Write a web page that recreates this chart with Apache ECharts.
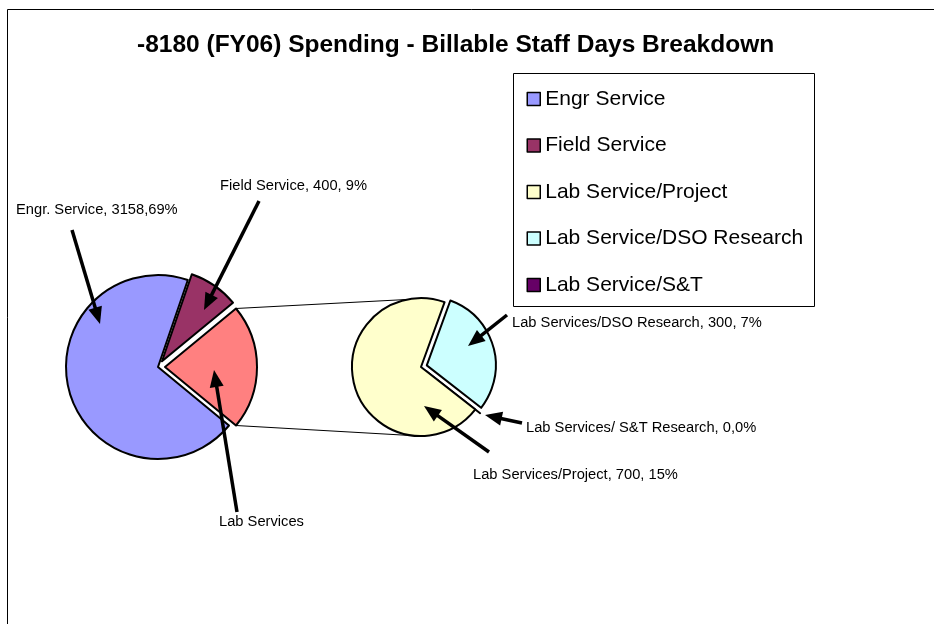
<!DOCTYPE html>
<html>
<head>
<meta charset="utf-8">
<script src="https://cdn.jsdelivr.net/npm/echarts@6/dist/echarts.min.js"></script>
<style>
  html, body { margin: 0; padding: 0; background: #fff; }
  #chart { width: 934px; height: 624px; }
</style>
</head>
<body>
<div id="chart"></div>
<script>
// FY06 billable staff days by service line
const categories = ['Engr Service', 'Field Service', 'Lab Service/Project', 'Lab Service/DSO Research', 'Lab Service/S&T'];
const staffDays = [3158, 400, 700, 300, 0];
const labelNames = ['Engr. Service', 'Field Service', 'Lab Services/Project', 'Lab Services/DSO Research', 'Lab Services/ S&T Research'];
const labelSeparators = [',', ', ', ', ', ', ', ','];
const labGroupName = 'Lab Services';

// styling
const sliceColors = ['#9999FF', '#993366', '#FFFFCC', '#CCFFFF', '#660066'];
const labGroupColor = '#FF8080';
const FONT = '"Liberation Sans", Arial, sans-serif';

// layout
const mainCenter = [158, 367], mainRadius = 92, mainExplode = 7;
const subCenter = [421, 367], subRadius = 69, subExplode = 6, subStart = 70;
const labelPos = {
  'Engr Service': [16, 210],
  'Field Service': [220, 186],
  'Lab Services': [219, 522],
  'Lab Service/Project': [473, 475],
  'Lab Service/DSO Research': [512, 323],
  'Lab Service/S&T': [526, 428]
};
const arrowPaths = [
  [[72, 230], [100, 324]],
  [[259, 201], [204, 310]],
  [[237, 512], [214, 370]],
  [[507, 315], [468, 346]],
  [[522, 423], [485, 415]],
  [[489, 452], [424, 406]]
];

const total = staffDays.reduce((a, b) => a + b, 0);
const labTotal = staffDays[2] + staffDays[3] + staffDays[4];
const pct = v => Math.round(v / total * 100);
const labelText = i => labelNames[i] + ', ' + staffDays[i] + labelSeparators[i] + pct(staffDays[i]) + '%';

// main pie: Lab Services wedge centred on 3 o'clock, drawn clockwise
const labAngle = labTotal / total * 360;
const fieldAngle = staffDays[1] / total * 360;
const mainStart = labAngle / 2 + fieldAngle;

const border = { borderColor: '#000', borderWidth: 2 };
const mainData = [
  { name: categories[1], value: staffDays[1], selected: true, itemStyle: Object.assign({ color: sliceColors[1] }, border), text: labelText(1) },
  { name: labGroupName, value: labTotal, selected: true, itemStyle: Object.assign({ color: labGroupColor }, border), text: labGroupName },
  { name: categories[0], value: staffDays[0], itemStyle: Object.assign({ color: sliceColors[0] }, border), text: labelText(0) }
];
const subData = [
  { name: categories[3], value: staffDays[3], selected: true, itemStyle: Object.assign({ color: sliceColors[3] }, border), text: labelText(3) },
  { name: categories[4], value: staffDays[4], selected: true, itemStyle: Object.assign({ color: sliceColors[4] }, border), text: labelText(4) },
  { name: categories[2], value: staffDays[2], itemStyle: Object.assign({ color: sliceColors[2] }, border), text: labelText(2) }
];

function pieSeries(data, center, radius, start, offset) {
  return {
    type: 'pie',
    center: center,
    radius: radius,
    startAngle: start,
    clockwise: true,
    selectedMode: 'multiple',
    selectedOffset: offset,
    minAngle: 0,
    data: data.map(d => ({ name: d.name, value: d.value, selected: d.selected, itemStyle: d.itemStyle })),
    label: { show: false },
    labelLine: { show: false },
    emphasis: { disabled: true },
    select: { itemStyle: { borderColor: '#000', borderWidth: 2 } }
  };
}

// arrow annotations
function arrow(from, to) {
  const dx = to[0] - from[0], dy = to[1] - from[1];
  const len = Math.hypot(dx, dy), ux = dx / len, uy = dy / len;
  const headLen = 17, headHalf = 7;
  const bx = to[0] - ux * headLen, by = to[1] - uy * headLen;
  return [
    { type: 'line', z: 100, shape: { x1: from[0], y1: from[1], x2: bx + ux * 2, y2: by + uy * 2 }, style: { stroke: '#000', lineWidth: 3.5 } },
    { type: 'polygon', z: 100, shape: { points: [to, [bx - uy * headHalf, by + ux * headHalf], [bx + uy * headHalf, by - ux * headHalf]] }, style: { fill: '#000' } }
  ];
}

// connector lines from the Lab Services wedge to the breakdown pie
const half = labAngle / 2 * Math.PI / 180;
const cornerTop = [mainCenter[0] + mainExplode + mainRadius * Math.cos(half), mainCenter[1] - mainRadius * Math.sin(half)];
const cornerBot = [mainCenter[0] + mainExplode + mainRadius * Math.cos(half), mainCenter[1] + mainRadius * Math.sin(half)];
const deg = d => d * Math.PI / 180;
const subTop = [subCenter[0] + subRadius * Math.cos(deg(102)), subCenter[1] - subRadius * Math.sin(deg(102))];
const subBot = [subCenter[0] + subRadius * Math.cos(deg(-92)), subCenter[1] - subRadius * Math.sin(deg(-92))];

const graphics = [
  { type: 'rect', z: 0, silent: true, shape: { x: 7.5, y: 9.5, width: 1000, height: 1000 }, style: { fill: null, stroke: '#000', lineWidth: 1 } },
  { type: 'rect', z: 0, silent: true, shape: { x: 513.5, y: 73.5, width: 301, height: 233 }, style: { fill: '#fff', stroke: '#000', lineWidth: 1 } },
  { type: 'line', z: 1, shape: { x1: cornerTop[0], y1: cornerTop[1], x2: subTop[0], y2: subTop[1] }, style: { stroke: '#000', lineWidth: 1 } },
  { type: 'line', z: 1, shape: { x1: cornerBot[0], y1: cornerBot[1], x2: subBot[0], y2: subBot[1] }, style: { stroke: '#000', lineWidth: 1 } }
];
arrowPaths.forEach(a => arrow(a[0], a[1]).forEach(g => graphics.push(g)));

// slice labels
mainData.concat(subData).forEach(d => {
  const p = labelPos[d.name];
  graphics.push({
    type: 'text', z: 100, silent: true,
    style: { text: d.text, x: p[0], y: p[1], align: 'left', verticalAlign: 'middle', fill: '#000', font: '14.7px ' + FONT }
  });
});

const chart = echarts.init(document.getElementById('chart'), null, { renderer: 'canvas' });
chart.setOption({
  animation: false,
  backgroundColor: '#fff',
  title: {
    text: '-8180 (FY06) Spending - Billable Staff Days Breakdown',
    left: 137,
    top: 33,
    padding: 0,
    textStyle: { fontFamily: FONT, fontWeight: 'bold', fontSize: 24.5, color: '#000' }
  },
  legend: {
    data: categories,
    orient: 'vertical',
    left: 526.5,
    top: 88.5,
    padding: 0,
    itemGap: 25.5,
    itemWidth: 13,
    itemHeight: 13,
    icon: 'rect',
    selectedMode: false,
    itemStyle: { borderColor: '#000', borderWidth: 1.5 },
    textStyle: { fontFamily: FONT, fontSize: 21, color: '#000', lineHeight: 21 }
  },
  graphic: graphics,
  series: [
    pieSeries(mainData, mainCenter, mainRadius, mainStart, mainExplode),
    pieSeries(subData, subCenter, subRadius, subStart, subExplode)
  ]
});
</script>
</body>
</html>
